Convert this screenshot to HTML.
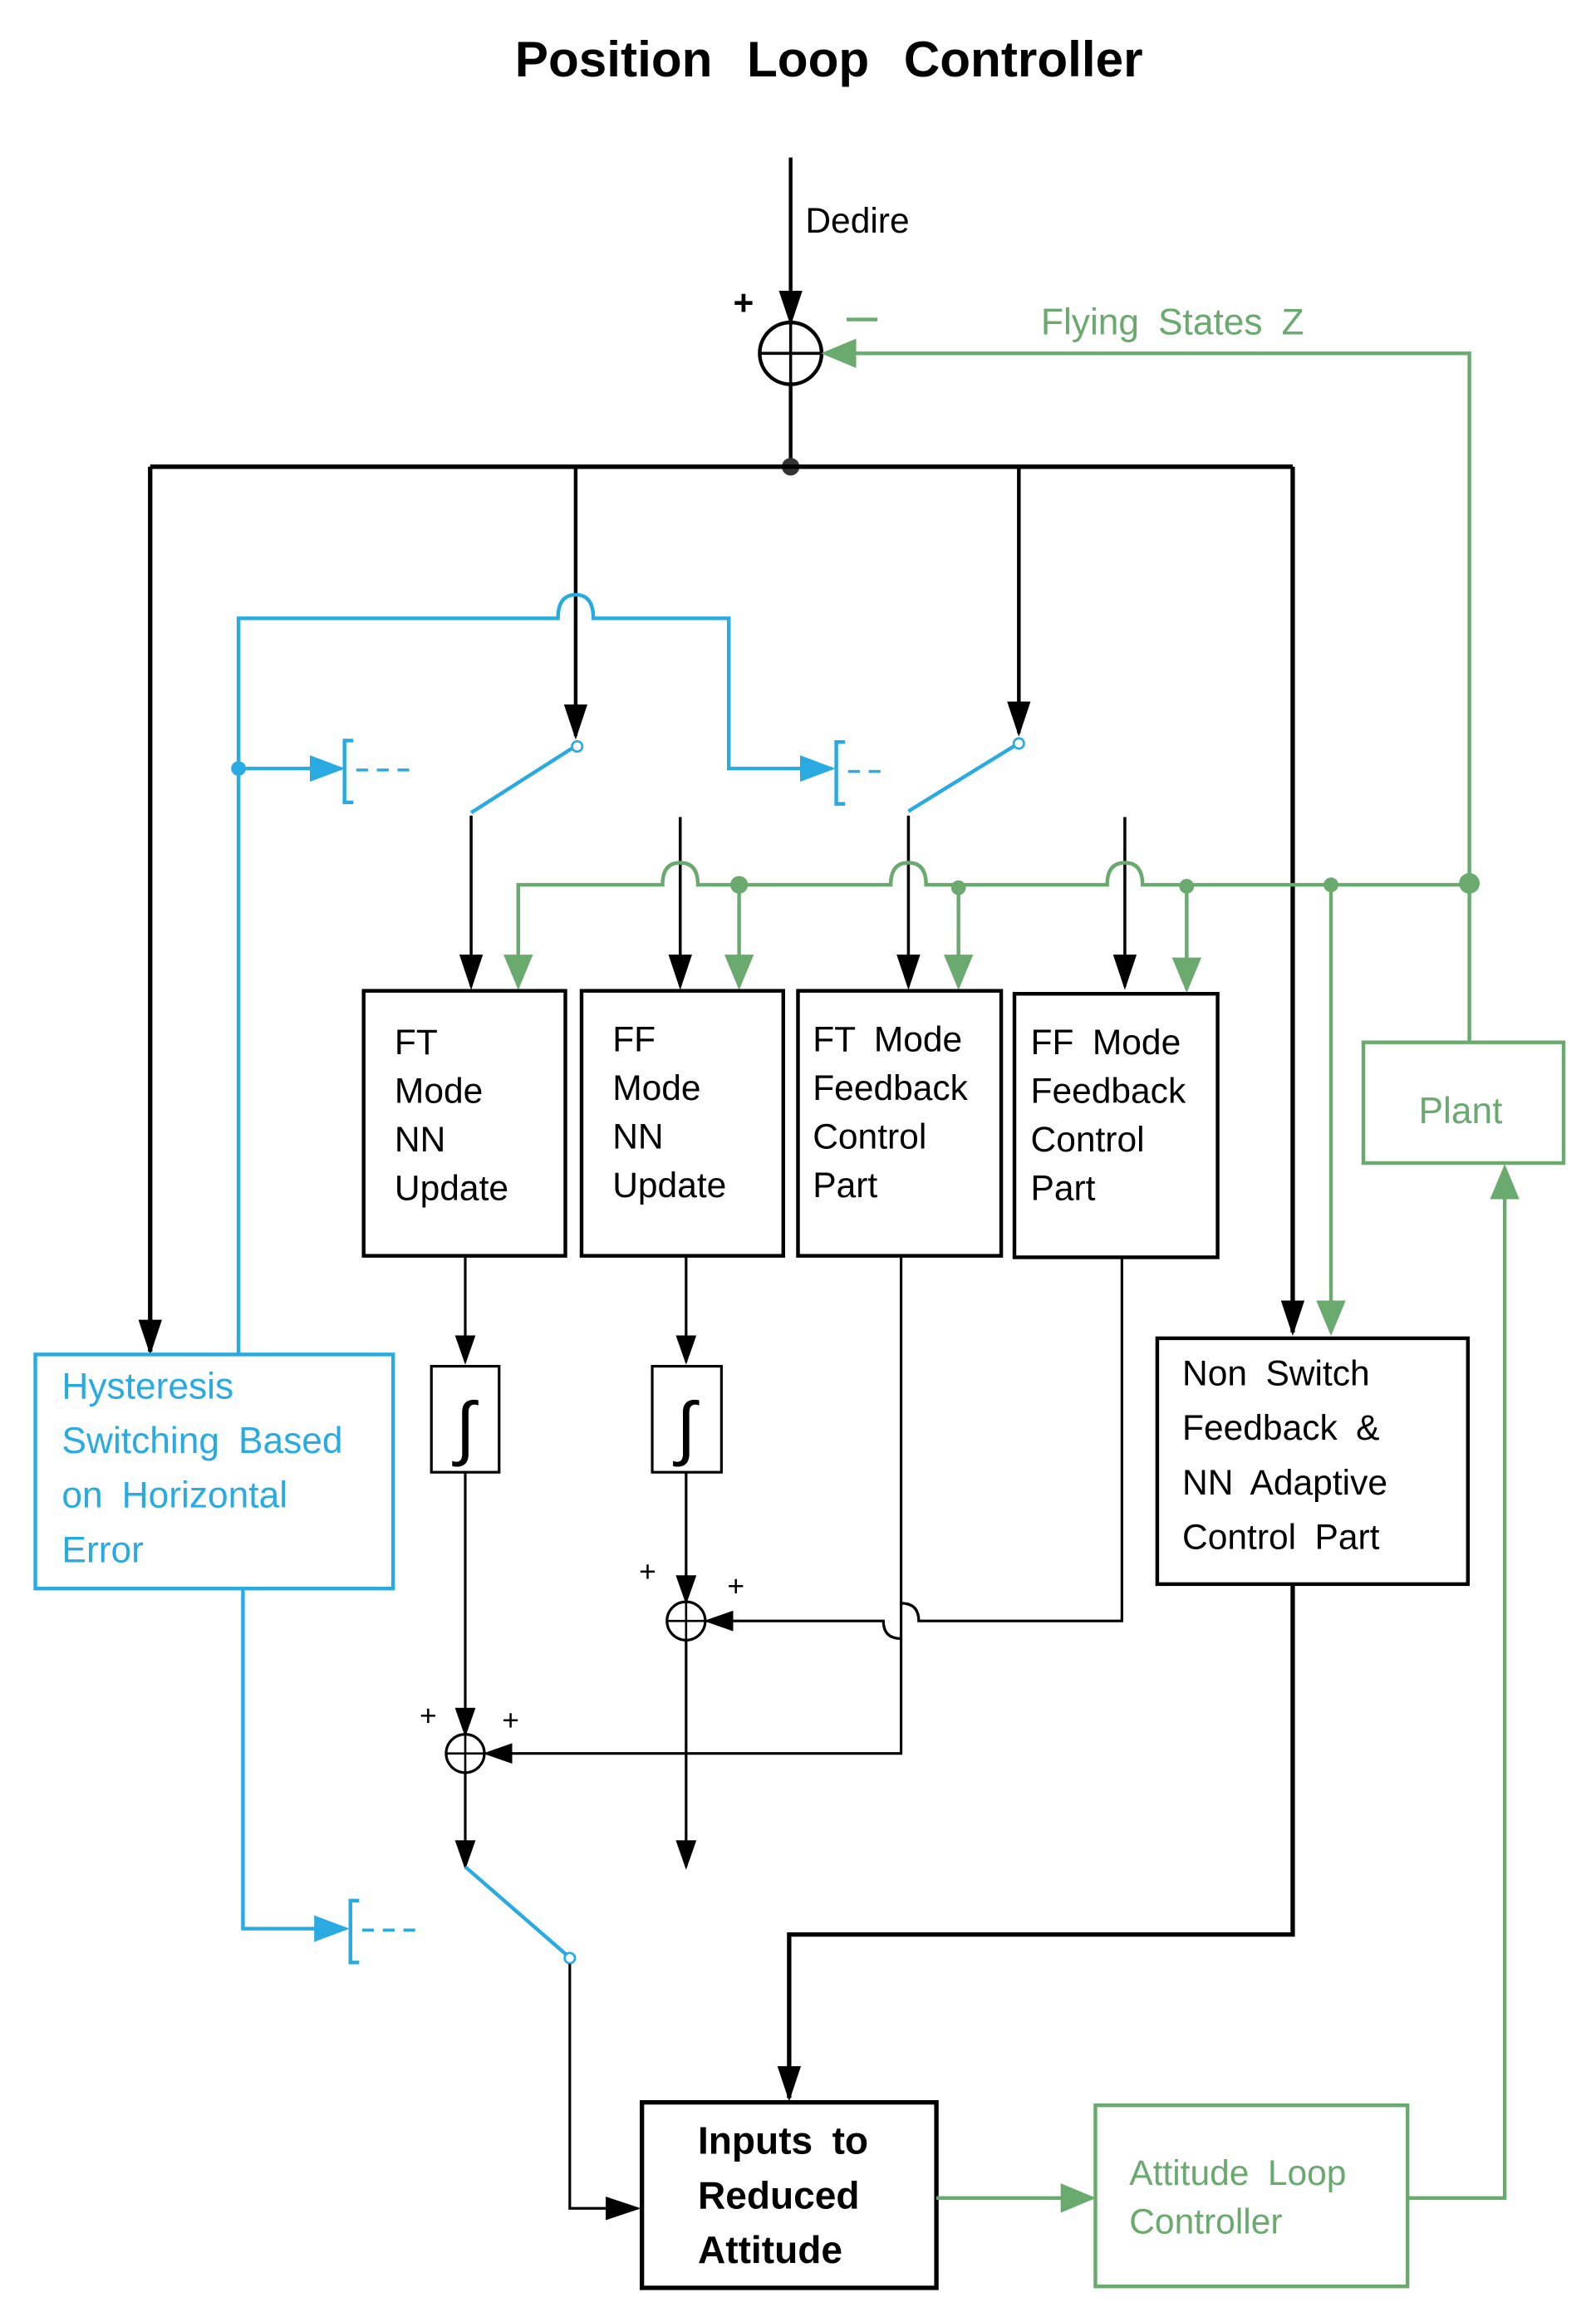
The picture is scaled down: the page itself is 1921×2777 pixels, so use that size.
<!DOCTYPE html>
<html><head><meta charset="utf-8"><style>
html,body{margin:0;padding:0;background:#fff;}
svg{display:block;}
text{font-family:"Liberation Sans",sans-serif;word-spacing:6px;}
</style></head><body>
<svg width="1921" height="2777" viewBox="0 0 1084 1567" preserveAspectRatio="none" xmlns="http://www.w3.org/2000/svg">
<defs>
<marker id="akb" viewBox="0 0 10 10" markerWidth="24" markerHeight="16" refX="9" refY="5" orient="auto" markerUnits="userSpaceOnUse" preserveAspectRatio="none"><path d="M0,0 L10,5 L0,10 z" fill="#000"/></marker>
<marker id="aks" viewBox="0 0 10 10" markerWidth="20" markerHeight="14" refX="9" refY="5" orient="auto" markerUnits="userSpaceOnUse" preserveAspectRatio="none"><path d="M0,0 L10,5 L0,10 z" fill="#000"/></marker>
<marker id="ag" viewBox="0 0 10 10" markerWidth="24" markerHeight="20" refX="9" refY="5" orient="auto" markerUnits="userSpaceOnUse" preserveAspectRatio="none"><path d="M0,0 L10,5 L0,10 z" fill="#6aaa6e"/></marker>
<marker id="ab" viewBox="0 0 10 10" markerWidth="24" markerHeight="18" refX="9" refY="5" orient="auto" markerUnits="userSpaceOnUse" preserveAspectRatio="none"><path d="M0,0 L10,5 L0,10 z" fill="#29abe2"/></marker>
</defs>
<rect width="1084" height="1567" fill="#fff"/>
<text x="563" y="52" font-size="34" font-weight="bold" text-anchor="middle" style="word-spacing:14px">Position Loop Controller</text>

<line x1="537" y1="107" x2="537" y2="219" stroke="#000" stroke-width="2.5" marker-end="url(#akb)"/>
<text x="547" y="158" font-size="24">Dedire</text>
<circle cx="537" cy="240" r="21" fill="none" stroke="#000" stroke-width="2.5"/>
<line x1="516" y1="240" x2="558" y2="240" stroke="#000" stroke-width="2"/>
<line x1="537" y1="219" x2="537" y2="261" stroke="#000" stroke-width="2"/>
<text x="498" y="214" font-size="24" font-weight="bold">+</text>
<line x1="575" y1="217" x2="596" y2="217" stroke="#6aaa6e" stroke-width="2.5"/>
<text x="707" y="227" font-size="25" fill="#6aaa6e">Flying States Z</text>
<polyline points="998,708 998,240 560,240" fill="none" stroke="#6aaa6e" stroke-width="2.5" marker-end="url(#ag)"/>

<line x1="537" y1="261" x2="537" y2="317" stroke="#000" stroke-width="2.5"/>
<circle cx="537" cy="317" r="6" fill="#333"/>
<line x1="102" y1="317" x2="878" y2="317" stroke="#000" stroke-width="3"/>
<line x1="102" y1="317" x2="102" y2="918" stroke="#000" stroke-width="3" marker-end="url(#akb)"/>
<line x1="878" y1="317" x2="878" y2="905" stroke="#000" stroke-width="3" marker-end="url(#akb)"/>
<line x1="391" y1="317" x2="391" y2="500" stroke="#000" stroke-width="2.5" marker-end="url(#akb)"/>
<line x1="692" y1="317" x2="692" y2="498" stroke="#000" stroke-width="2.5" marker-end="url(#akb)"/>

<line x1="389" y1="508" x2="320" y2="552" stroke="#29abe2" stroke-width="2.5"/>
<circle cx="392" cy="507" r="3.5" fill="#fff" stroke="#29abe2" stroke-width="1.5"/>
<line x1="690" y1="506" x2="617" y2="551" stroke="#29abe2" stroke-width="2.5"/>
<circle cx="692" cy="505" r="3.5" fill="#fff" stroke="#29abe2" stroke-width="1.5"/>
<line x1="320" y1="554" x2="320" y2="670" stroke="#000" stroke-width="2" marker-end="url(#akb)"/>
<line x1="617" y1="554" x2="617" y2="670" stroke="#000" stroke-width="2" marker-end="url(#akb)"/>
<line x1="462" y1="555" x2="462" y2="670" stroke="#000" stroke-width="2" marker-end="url(#akb)"/>
<line x1="764" y1="555" x2="764" y2="670" stroke="#000" stroke-width="2" marker-end="url(#akb)"/>

<path d="M162,920 L162,420 L379,420 Q379,404 391,404 Q403,404 403,420 L495,420 L495,522 L565,522" fill="none" stroke="#29abe2" stroke-width="2.5" marker-end="url(#ab)"/>
<circle cx="162" cy="522" r="5" fill="#29abe2"/>
<line x1="162" y1="522" x2="232" y2="522" stroke="#29abe2" stroke-width="2.5" marker-end="url(#ab)"/>
<polyline points="240,503 234,503 234,545 240,545" fill="none" stroke="#29abe2" stroke-width="2.5"/>
<line x1="242" y1="523" x2="280" y2="523" stroke="#29abe2" stroke-width="2" stroke-dasharray="8,6"/>
<polyline points="574,504 568,504 568,546 574,546" fill="none" stroke="#29abe2" stroke-width="2.5"/>
<line x1="576" y1="524" x2="598" y2="524" stroke="#29abe2" stroke-width="2" stroke-dasharray="8,6"/>

<path d="M998,601 L776,601 Q776,586 764,586 Q752,586 752,601 L629,601 Q629,586 617,586 Q605,586 605,601 L474,601 Q474,586 462,586 Q450,586 450,601 L352,601 L352,670" fill="none" stroke="#6aaa6e" stroke-width="2.5" marker-end="url(#ag)"/>
<circle cx="502" cy="601" r="6" fill="#6aaa6e"/>
<circle cx="651" cy="603" r="5" fill="#6aaa6e"/>
<circle cx="806" cy="602" r="5" fill="#6aaa6e"/>
<circle cx="904" cy="601" r="5" fill="#6aaa6e"/>
<circle cx="998" cy="600" r="7" fill="#6aaa6e"/>
<line x1="502" y1="601" x2="502" y2="670" stroke="#6aaa6e" stroke-width="2.5" marker-end="url(#ag)"/>
<line x1="651" y1="603" x2="651" y2="670" stroke="#6aaa6e" stroke-width="2.5" marker-end="url(#ag)"/>
<line x1="806" y1="602" x2="806" y2="672" stroke="#6aaa6e" stroke-width="2.5" marker-end="url(#ag)"/>
<line x1="904" y1="601" x2="904" y2="905" stroke="#6aaa6e" stroke-width="2.5" marker-end="url(#ag)"/>

<g fill="none" stroke="#000" stroke-width="2.5">
<rect x="247" y="673" width="137" height="180"/>
<rect x="395" y="673" width="137" height="180"/>
<rect x="542" y="673" width="138" height="180"/>
<rect x="689" y="675" width="138" height="179"/>
<rect x="786" y="909" width="211" height="167"/>
</g>
<g font-size="24">
<text x="268" y="716">FT</text><text x="268" y="749">Mode</text><text x="268" y="782">NN</text><text x="268" y="815">Update</text>
<text x="416" y="714">FF</text><text x="416" y="747">Mode</text><text x="416" y="780">NN</text><text x="416" y="813">Update</text>
<text x="552" y="714">FT Mode</text><text x="552" y="747">Feedback</text><text x="552" y="780">Control</text><text x="552" y="813">Part</text>
<text x="700" y="716">FF Mode</text><text x="700" y="749">Feedback</text><text x="700" y="782">Control</text><text x="700" y="815">Part</text>
<text x="803" y="941">Non Switch</text><text x="803" y="978">Feedback &amp;</text><text x="803" y="1015">NN Adaptive</text><text x="803" y="1052">Control Part</text>
</g>

<rect x="926" y="708" width="136" height="82" fill="none" stroke="#6aaa6e" stroke-width="2.5"/>
<text x="992" y="763" font-size="25" fill="#6aaa6e" text-anchor="middle">Plant</text>
<polyline points="956,1493 1022,1493 1022,793" fill="none" stroke="#6aaa6e" stroke-width="2.5" marker-end="url(#ag)"/>

<rect x="24" y="920" width="243" height="159" fill="none" stroke="#29abe2" stroke-width="2.5"/>
<g font-size="25" fill="#29abe2">
<text x="42" y="950">Hysteresis</text><text x="42" y="987">Switching Based</text><text x="42" y="1024">on Horizontal</text><text x="42" y="1061">Error</text>
</g>
<polyline points="165,1079 165,1310 235,1310" fill="none" stroke="#29abe2" stroke-width="2.5" marker-end="url(#ab)"/>
<polyline points="244,1291 238,1291 238,1333 244,1333" fill="none" stroke="#29abe2" stroke-width="2.5"/>
<line x1="246" y1="1311" x2="284" y2="1311" stroke="#29abe2" stroke-width="2" stroke-dasharray="8,6"/>

<line x1="316" y1="853" x2="316" y2="925" stroke="#000" stroke-width="1.8" marker-end="url(#aks)"/>
<line x1="466" y1="853" x2="466" y2="925" stroke="#000" stroke-width="1.8" marker-end="url(#aks)"/>
<rect x="293" y="928" width="46" height="72" fill="none" stroke="#000" stroke-width="1.8"/>
<rect x="443" y="928" width="47" height="72" fill="none" stroke="#000" stroke-width="1.8"/>
<text x="316" y="986" font-size="48" text-anchor="middle" font-family="DejaVu Sans">∫</text>
<text x="466" y="986" font-size="48" text-anchor="middle" font-family="DejaVu Sans">∫</text>

<line x1="466" y1="1000" x2="466" y2="1088" stroke="#000" stroke-width="1.8" marker-end="url(#aks)"/>
<circle cx="466" cy="1101" r="13" fill="none" stroke="#000" stroke-width="1.8"/>
<line x1="453" y1="1101" x2="479" y2="1101" stroke="#000" stroke-width="1.5"/>
<line x1="466" y1="1088" x2="466" y2="1114" stroke="#000" stroke-width="1.5"/>
<text x="434" y="1074" font-size="20">+</text><text x="494" y="1084" font-size="20">+</text>
<path d="M762,854 L762,1101 L624,1101 Q624,1089 612,1089" fill="none" stroke="#000" stroke-width="1.8"/>
<path d="M612,1113 Q600,1113 600,1101 L480,1101" fill="none" stroke="#000" stroke-width="1.8" marker-end="url(#aks)"/>
<line x1="466" y1="1114" x2="466" y2="1268" stroke="#000" stroke-width="1.8" marker-end="url(#aks)"/>

<polyline points="612,853 612,1191 330,1191" fill="none" stroke="#000" stroke-width="1.8" marker-end="url(#aks)"/>
<line x1="316" y1="1000" x2="316" y2="1178" stroke="#000" stroke-width="1.8" marker-end="url(#aks)"/>
<circle cx="316" cy="1191" r="13" fill="none" stroke="#000" stroke-width="1.8"/>
<line x1="303" y1="1191" x2="329" y2="1191" stroke="#000" stroke-width="1.5"/>
<line x1="316" y1="1178" x2="316" y2="1204" stroke="#000" stroke-width="1.5"/>
<text x="285" y="1172" font-size="20">+</text><text x="341" y="1175" font-size="20">+</text>
<line x1="316" y1="1204" x2="316" y2="1268" stroke="#000" stroke-width="1.8" marker-end="url(#aks)"/>

<line x1="316" y1="1268" x2="385" y2="1328" stroke="#29abe2" stroke-width="2.5"/>
<circle cx="387" cy="1330" r="3.5" fill="#fff" stroke="#29abe2" stroke-width="1.5"/>
<polyline points="387,1334 387,1500 433,1500" fill="none" stroke="#000" stroke-width="1.8" marker-end="url(#akb)"/>
<polyline points="878,1076 878,1314 536,1314 536,1425" fill="none" stroke="#000" stroke-width="3" marker-end="url(#akb)"/>

<rect x="436" y="1428" width="200" height="126" fill="none" stroke="#000" stroke-width="3"/>
<g font-size="26" font-weight="bold">
<text x="474" y="1463">Inputs to</text><text x="474" y="1500">Reduced</text><text x="474" y="1537">Attitude</text>
</g>
<line x1="636" y1="1493" x2="742" y2="1493" stroke="#6aaa6e" stroke-width="2.5" marker-end="url(#ag)"/>
<rect x="744" y="1430" width="212" height="123" fill="none" stroke="#6aaa6e" stroke-width="2.5"/>
<text x="767" y="1484" font-size="24" fill="#6aaa6e">Attitude Loop</text>
<text x="767" y="1517" font-size="24" fill="#6aaa6e">Controller</text>
</svg>
</body></html>
